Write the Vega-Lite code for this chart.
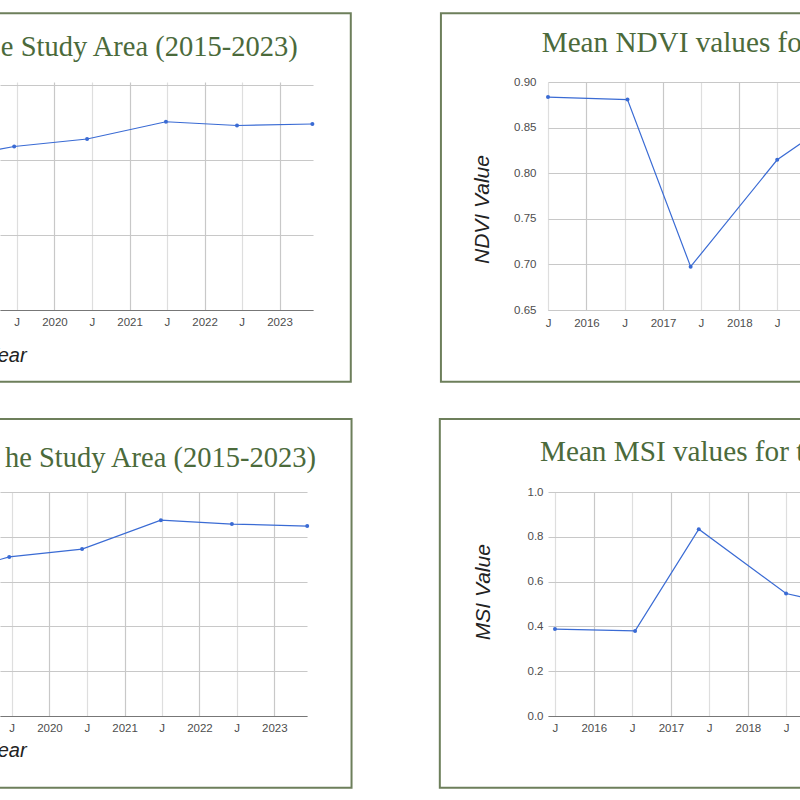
{
  "$schema": "https://vega.github.io/schema/vega-lite/v6.json",
  "usermeta": {"embedOptions": {"actions": false}},
  "autosize": {"type": "none"},
  "padding": {"left": 0, "top": 82, "right": 800, "bottom": 718},
  "background": "white",
  "datasets": {
    "tl": [
      {"date": "2018-07-01", "value": 0.400},
      {"date": "2019-06-19", "value": 0.436},
      {"date": "2020-06-08", "value": 0.456},
      {"date": "2021-06-27", "value": 0.502},
      {"date": "2022-06-08", "value": 0.492},
      {"date": "2023-06-10", "value": 0.496}
    ],
    "ndvi": [
      {"date": "2015-07-01", "value": 0.8835},
      {"date": "2016-07-15", "value": 0.8807},
      {"date": "2017-05-13", "value": 0.6975},
      {"date": "2018-07-01", "value": 0.8147},
      {"date": "2019-06-19", "value": 0.871}
    ],
    "bl": [
      {"date": "2018-07-01", "value": 0.621},
      {"date": "2019-06-19", "value": 0.710},
      {"date": "2020-06-08", "value": 0.745},
      {"date": "2021-06-27", "value": 0.874},
      {"date": "2022-06-08", "value": 0.857},
      {"date": "2023-06-10", "value": 0.848}
    ],
    "msi": [
      {"date": "2015-07-01", "value": 0.388},
      {"date": "2016-07-15", "value": 0.380},
      {"date": "2017-05-13", "value": 0.834},
      {"date": "2018-07-01", "value": 0.547},
      {"date": "2019-06-19", "value": 0.469}
    ]
  },
  "columns": 3,
  "bounds": "flush",
  "spacing": {"row": 182, "column": 0},
  "concat": [
    {
      "width": 313,
      "height": 228,
      "data": {"name": "tl"},
      "title": {"text": "e Study Area (2015-2023)", "anchor": "end", "dx": -15.3, "offset": -48.7},
      "layer": [
        {
          "data": {"values": [{}]},
          "mark": {"type": "rect", "fill": "transparent", "stroke": "#6d7f5b", "strokeWidth": 2},
          "encoding": {
            "x": {"datum": {"year": 2017, "month": 1, "date": 1, "utc": true}, "type": "temporal"},
            "x2": {"datum": {"year": 2023, "month": 12, "date": 14, "utc": true}},
            "y": {"datum": 0.7912, "type": "quantitative"},
            "y2": {"datum": -0.1912}
          }
        },
        {
          "mark": {"type": "line", "color": "#3a6bd4", "strokeWidth": 1.2, "point": {"filled": true, "size": 16, "color": "#3a6bd4"}},
          "encoding": {
            "x": {
              "field": "date", "type": "temporal",
              "scale": {"type": "utc", "domain": [{"year": 2019, "month": 4, "date": 11, "utc": true}, {"year": 2023, "month": 6, "date": 13, "utc": true}]},
              "axis": {
                "values": [
                  {"year": 2019, "month": 7, "date": 1, "utc": true}, {"year": 2019, "month": 10, "date": 1, "utc": true},
                  {"year": 2020, "month": 1, "date": 1, "utc": true}, {"year": 2020, "month": 4, "date": 1, "utc": true},
                  {"year": 2020, "month": 7, "date": 1, "utc": true}, {"year": 2020, "month": 10, "date": 1, "utc": true},
                  {"year": 2021, "month": 1, "date": 1, "utc": true}, {"year": 2021, "month": 4, "date": 1, "utc": true},
                  {"year": 2021, "month": 7, "date": 1, "utc": true}, {"year": 2021, "month": 10, "date": 1, "utc": true},
                  {"year": 2022, "month": 1, "date": 1, "utc": true}, {"year": 2022, "month": 4, "date": 1, "utc": true},
                  {"year": 2022, "month": 7, "date": 1, "utc": true}, {"year": 2022, "month": 10, "date": 1, "utc": true},
                  {"year": 2023, "month": 1, "date": 1, "utc": true}, {"year": 2023, "month": 4, "date": 1, "utc": true}
                ],
                "labelExpr": "utcmonth(datum.value) == 0 ? '' + utcyear(datum.value) : (utcmonth(datum.value) == 6 ? 'J' : '')",
                "grid": true,
                "gridColor": {"condition": {"test": "utcmonth(datum.value) == 0", "value": "#c8c8c8"}, "value": "#dedede"},
                "domain": true, "domainColor": "#777",
                "labelPadding": 12.3, "labelBaseline": "middle", "labelFlush": false, "labelOverlap": false,
                "title": "Year", "titleX": -15, "titleY": 51.5, "titleAlign": "left", "titleBaseline": "alphabetic"
              }
            },
            "y": {
              "field": "value", "type": "quantitative",
              "scale": {"domain": [0, 0.608], "nice": false, "zero": false},
              "axis": {
                "values": [0, 0.05, 0.1, 0.15, 0.2, 0.25, 0.3, 0.35, 0.4, 0.45, 0.5, 0.55, 0.6],
                "labels": false, "title": null, "grid": true,
                "gridColor": {"condition": {"test": "abs(datum.value*10 - round(datum.value*10)) < 0.001", "value": "#c8c8c8"}, "value": "#dedede"}
              }
            }
          }
        }
      ]
    },
    {
      "width": 235,
      "height": 228,
      "data": {"values": [{}]},
      "mark": {"type": "point", "opacity": 0}
    },
    {
      "width": 252,
      "height": 228,
      "data": {"name": "ndvi"},
      "title": {"text": "Mean NDVI values for the Study Area (2015-2023)", "anchor": "start", "dx": -6.3, "offset": -45.4, "fontSize": 29.2},
      "layer": [
        {
          "data": {"values": [{}]},
          "mark": {"type": "rect", "fill": "transparent", "stroke": "#6d7f5b", "strokeWidth": 2},
          "encoding": {
            "x": {"datum": {"year": 2014, "month": 2, "date": 4, "utc": true}, "type": "temporal"},
            "x2": {"datum": {"year": 2021, "month": 1, "date": 1, "utc": true}},
            "y": {"datum": 0.9753, "type": "quantitative"},
            "y2": {"datum": 0.5714}
          }
        },
        {
          "mark": {"type": "line", "color": "#3a6bd4", "strokeWidth": 1.2, "point": {"filled": true, "size": 16, "color": "#3a6bd4"}},
          "encoding": {
            "x": {
              "field": "date", "type": "temporal",
              "scale": {"type": "utc", "domain": [{"year": 2015, "month": 7, "date": 1, "utc": true}, {"year": 2018, "month": 10, "date": 18, "utc": true}]},
              "axis": {
                "values": [
                  {"year": 2015, "month": 7, "date": 1, "utc": true}, {"year": 2015, "month": 10, "date": 1, "utc": true},
                  {"year": 2016, "month": 1, "date": 1, "utc": true}, {"year": 2016, "month": 4, "date": 1, "utc": true},
                  {"year": 2016, "month": 7, "date": 1, "utc": true}, {"year": 2016, "month": 10, "date": 1, "utc": true},
                  {"year": 2017, "month": 1, "date": 1, "utc": true}, {"year": 2017, "month": 4, "date": 1, "utc": true},
                  {"year": 2017, "month": 7, "date": 1, "utc": true}, {"year": 2017, "month": 10, "date": 1, "utc": true},
                  {"year": 2018, "month": 1, "date": 1, "utc": true}, {"year": 2018, "month": 4, "date": 1, "utc": true},
                  {"year": 2018, "month": 7, "date": 1, "utc": true}, {"year": 2018, "month": 10, "date": 1, "utc": true}
                ],
                "labelExpr": "utcmonth(datum.value) == 0 ? '' + utcyear(datum.value) : (utcmonth(datum.value) == 6 ? 'J' : '')",
                "grid": true,
                "gridColor": {"condition": {"test": "utcmonth(datum.value) == 0", "value": "#c8c8c8"}, "value": "#dedede"},
                "domain": true, "domainColor": "#c8c8c8",
                "labelPadding": 13, "labelBaseline": "middle", "labelFlush": false, "labelOverlap": false,
                "title": null
              }
            },
            "y": {
              "field": "value", "type": "quantitative",
              "scale": {"domain": [0.65, 0.9], "nice": false, "zero": false},
              "axis": {
                "values": [0.65, 0.675, 0.7, 0.725, 0.75, 0.775, 0.8, 0.825, 0.85, 0.875, 0.9],
                "labelExpr": "abs(datum.value*20 - round(datum.value*20)) < 0.001 ? format(datum.value, '.2f') : ''",
                "labelPadding": 12, "labelOverlap": false, "labelFlush": false, "grid": true,
                "gridColor": {"condition": {"test": "abs(datum.value*20 - round(datum.value*20)) < 0.001", "value": "#c8c8c8"}, "value": "#dedede"},
                "title": "NDVI Value", "titleX": -66, "titleY": 127, "titleAngle": 270, "titleAlign": "center", "titleBaseline": "middle", "titleFontSize": 21
              }
            }
          }
        }
      ]
    },
    {
      "width": 307,
      "height": 224,
      "data": {"name": "bl"},
      "title": {"text": "he Study Area (2015-2023)", "anchor": "end", "dx": 9, "offset": -54.7},
      "layer": [
        {
          "data": {"values": [{}]},
          "mark": {"type": "rect", "fill": "transparent", "stroke": "#6d7f5b", "strokeWidth": 2},
          "encoding": {
            "x": {"datum": {"year": 2017, "month": 1, "date": 1, "utc": true}, "type": "temporal"},
            "x2": {"datum": {"year": 2024, "month": 1, "date": 12, "utc": true}},
            "y": {"datum": 1.3259, "type": "quantitative"},
            "y2": {"datum": -0.3201}
          }
        },
        {
          "mark": {"type": "line", "color": "#3a6bd4", "strokeWidth": 1.2, "point": {"filled": true, "size": 16, "color": "#3a6bd4"}},
          "encoding": {
            "x": {
              "field": "date", "type": "temporal",
              "scale": {"type": "utc", "domain": [{"year": 2019, "month": 5, "date": 5, "utc": true}, {"year": 2023, "month": 6, "date": 9, "utc": true}]},
              "axis": {
                "values": [
                  {"year": 2019, "month": 7, "date": 1, "utc": true}, {"year": 2019, "month": 10, "date": 1, "utc": true},
                  {"year": 2020, "month": 1, "date": 1, "utc": true}, {"year": 2020, "month": 4, "date": 1, "utc": true},
                  {"year": 2020, "month": 7, "date": 1, "utc": true}, {"year": 2020, "month": 10, "date": 1, "utc": true},
                  {"year": 2021, "month": 1, "date": 1, "utc": true}, {"year": 2021, "month": 4, "date": 1, "utc": true},
                  {"year": 2021, "month": 7, "date": 1, "utc": true}, {"year": 2021, "month": 10, "date": 1, "utc": true},
                  {"year": 2022, "month": 1, "date": 1, "utc": true}, {"year": 2022, "month": 4, "date": 1, "utc": true},
                  {"year": 2022, "month": 7, "date": 1, "utc": true}, {"year": 2022, "month": 10, "date": 1, "utc": true},
                  {"year": 2023, "month": 1, "date": 1, "utc": true}, {"year": 2023, "month": 4, "date": 1, "utc": true}
                ],
                "labelExpr": "utcmonth(datum.value) == 0 ? '' + utcyear(datum.value) : (utcmonth(datum.value) == 6 ? 'J' : '')",
                "grid": true,
                "gridColor": {"condition": {"test": "utcmonth(datum.value) == 0", "value": "#c8c8c8"}, "value": "#dedede"},
                "domain": true, "domainColor": "#777",
                "labelPadding": 12.3, "labelBaseline": "middle", "labelFlush": false, "labelOverlap": false,
                "title": "Year", "titleX": -15, "titleY": 40.7, "titleAlign": "left", "titleBaseline": "alphabetic"
              }
            },
            "y": {
              "field": "value", "type": "quantitative",
              "scale": {"domain": [0, 1], "nice": false, "zero": false},
              "axis": {
                "values": [0, 0.1, 0.2, 0.3, 0.4, 0.5, 0.6, 0.7, 0.8, 0.9, 1],
                "labels": false, "title": null, "grid": true,
                "gridColor": {"condition": {"test": "abs(datum.value*5 - round(datum.value*5)) < 0.001", "value": "#c8c8c8"}, "value": "#dedede"}
              }
            }
          }
        }
      ]
    },
    {
      "width": 235,
      "height": 224,
      "data": {"values": [{}]},
      "mark": {"type": "point", "opacity": 0}
    },
    {
      "width": 252,
      "height": 224,
      "data": {"name": "msi"},
      "title": {"text": "Mean MSI values for the Study Area (2015-2023)", "anchor": "start", "dx": -8, "offset": -49, "fontSize": 29.2},
      "layer": [
        {
          "data": {"values": [{}]},
          "mark": {"type": "rect", "fill": "transparent", "stroke": "#6d7f5b", "strokeWidth": 2},
          "encoding": {
            "x": {"datum": {"year": 2014, "month": 1, "date": 1, "utc": true}, "type": "temporal"},
            "x2": {"datum": {"year": 2021, "month": 1, "date": 1, "utc": true}},
            "y": {"datum": 1.3259, "type": "quantitative"},
            "y2": {"datum": -0.3201}
          }
        },
        {
          "mark": {"type": "line", "color": "#3a6bd4", "strokeWidth": 1.2, "point": {"filled": true, "size": 16, "color": "#3a6bd4"}},
          "encoding": {
            "x": {
              "field": "date", "type": "temporal",
              "scale": {"type": "utc", "domain": [{"year": 2015, "month": 5, "date": 29, "utc": true}, {"year": 2018, "month": 9, "date": 5, "utc": true}]},
              "axis": {
                "values": [
                  {"year": 2015, "month": 7, "date": 1, "utc": true}, {"year": 2015, "month": 10, "date": 1, "utc": true},
                  {"year": 2016, "month": 1, "date": 1, "utc": true}, {"year": 2016, "month": 4, "date": 1, "utc": true},
                  {"year": 2016, "month": 7, "date": 1, "utc": true}, {"year": 2016, "month": 10, "date": 1, "utc": true},
                  {"year": 2017, "month": 1, "date": 1, "utc": true}, {"year": 2017, "month": 4, "date": 1, "utc": true},
                  {"year": 2017, "month": 7, "date": 1, "utc": true}, {"year": 2017, "month": 10, "date": 1, "utc": true},
                  {"year": 2018, "month": 1, "date": 1, "utc": true}, {"year": 2018, "month": 4, "date": 1, "utc": true},
                  {"year": 2018, "month": 7, "date": 1, "utc": true}
                ],
                "labelExpr": "utcmonth(datum.value) == 0 ? '' + utcyear(datum.value) : (utcmonth(datum.value) == 6 ? 'J' : '')",
                "grid": true,
                "gridColor": {"condition": {"test": "utcmonth(datum.value) == 0", "value": "#c8c8c8"}, "value": "#dedede"},
                "domain": true, "domainColor": "#777",
                "labelPadding": 12.3, "labelBaseline": "middle", "labelFlush": false, "labelOverlap": false,
                "title": null
              }
            },
            "y": {
              "field": "value", "type": "quantitative",
              "scale": {"domain": [0, 1], "nice": false, "zero": false},
              "axis": {
                "values": [0, 0.1, 0.2, 0.3, 0.4, 0.5, 0.6, 0.7, 0.8, 0.9, 1],
                "labelExpr": "abs(datum.value*5 - round(datum.value*5)) < 0.001 ? format(datum.value, '.1f') : ''",
                "labelPadding": 5, "labelOverlap": false, "labelFlush": false, "grid": true,
                "gridColor": {"condition": {"test": "abs(datum.value*5 - round(datum.value*5)) < 0.001", "value": "#c8c8c8"}, "value": "#dedede"},
                "title": "MSI Value", "titleX": -64.7, "titleY": 99.7, "titleAngle": 270, "titleAlign": "center", "titleBaseline": "middle", "titleFontSize": 21
              }
            }
          }
        }
      ]
    }
  ],
  "config": {
    "view": {"stroke": null},
    "axis": {
      "labelFont": "Liberation Sans", "labelFontSize": 11.5, "labelColor": "#4d4d4d",
      "titleFont": "Liberation Sans", "titleFontStyle": "italic", "titleFontWeight": "normal", "titleFontSize": 20, "titleColor": "#222",
      "ticks": false, "tickSize": 0, "domain": false, "gridWidth": 1.2
    },
    "title": {"font": "Liberation Serif", "fontSize": 28.5, "fontWeight": "normal", "color": "#4b6a3b", "frame": "group", "baseline": "alphabetic"}
  }
}
